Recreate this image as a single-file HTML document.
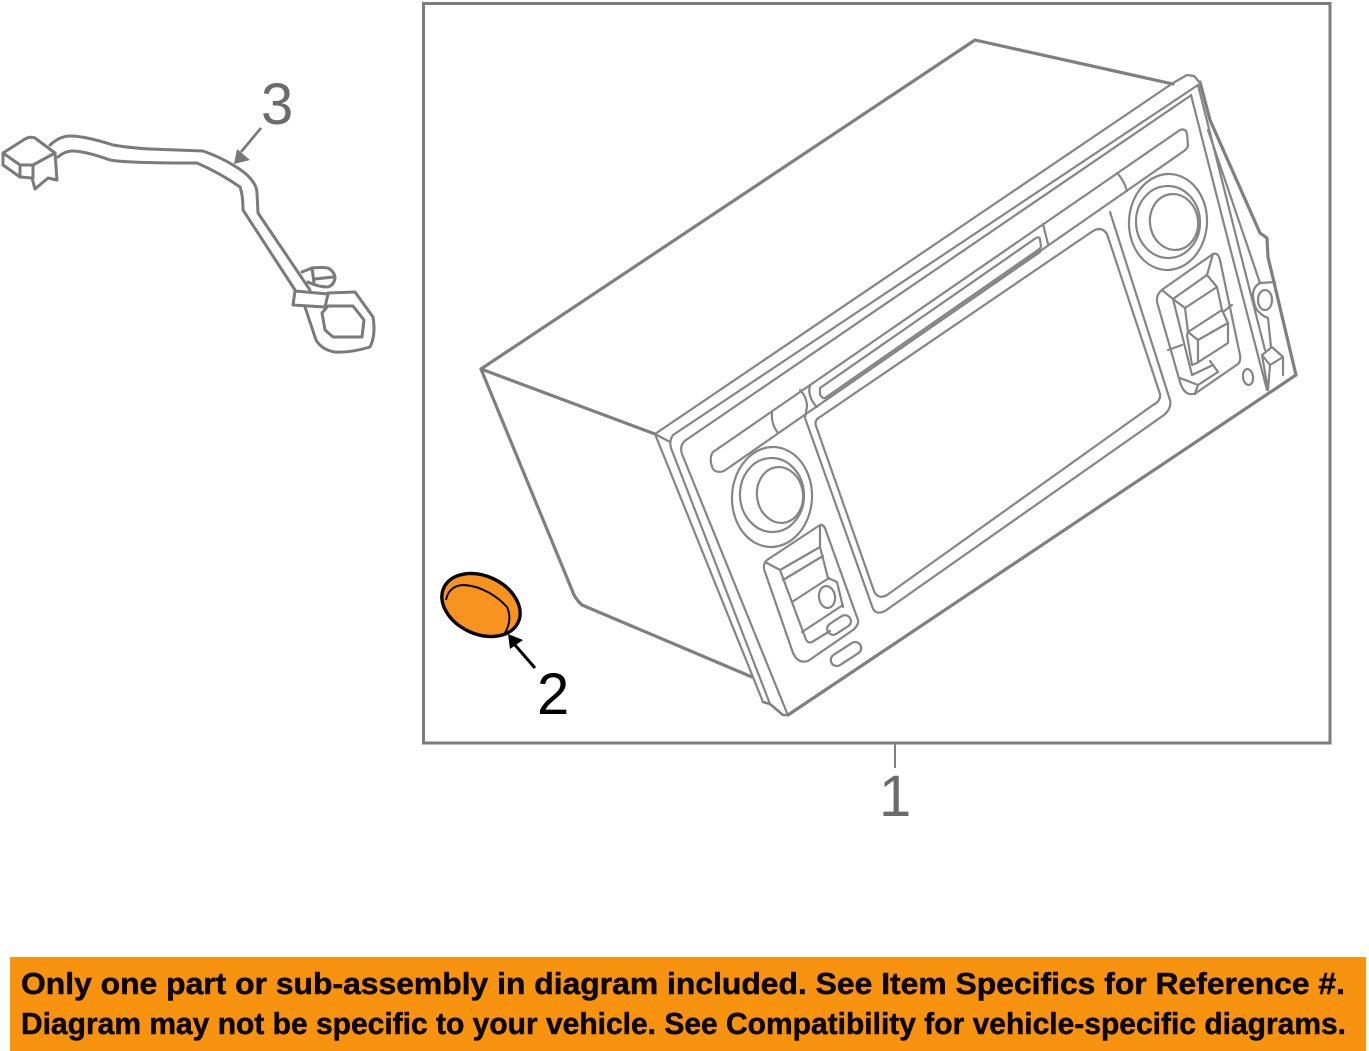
<!DOCTYPE html>
<html>
<head>
<meta charset="utf-8">
<style>
html,body{margin:0;padding:0;background:#fff;width:1369px;height:1051px;overflow:hidden}
svg{display:block}
text{font-family:"Liberation Sans",sans-serif}
</style>
</head>
<body>
<svg width="1369" height="1051" viewBox="0 0 1369 1051" xmlns="http://www.w3.org/2000/svg">
<rect width="1369" height="1051" fill="#fff"/>

<!-- frame -->
<rect x="423.5" y="3.5" width="906.5" height="739.5" fill="none" stroke="#7c7c7c" stroke-width="3"/>
<line x1="895" y1="744" x2="895" y2="768" stroke="#808080" stroke-width="2"/>

<!-- radio -->
<g fill="none" stroke="#7f7f7f" stroke-width="3.2" stroke-linejoin="round" stroke-linecap="round">
  <path d="M1173 84L975 40L481 369L572 590Q575 599 582 605L752 677"/>
  <path d="M481 369L655 434"/>
  <path d="M788 715L1296 375L1268 257L1267 238L1260 233L1210 120L1200 82"/>
  <path d="M763 702L770 704L783 715L788 715" stroke-width="2.5"/>
</g>
<g fill="none" stroke="#858585" stroke-width="2.2" stroke-linejoin="round" stroke-linecap="round">
  <!-- top rails -->
  <path d="M655 434L1173 83L1187 75L1194 76L1200 83"/>
  <path d="M673 435L1198 85"/>
  <path d="M686 440L1190 96"/>
  <path d="M655 434L670 442"/>
  <!-- left rails -->
  <path d="M655 434L763 702"/>
  <path d="M673 435Q669 441 671 448L770 704"/>
  <path d="M686 440Q679 445 682 454L787 713"/>
  <!-- right rails -->
  <path d="M1191 95L1228 240L1267 390"/>
  <path d="M1198 85L1237 240L1265 350"/>
  <path d="M1208 130L1260 283"/>
  <!-- top strip -->
  <path d="M713 452L1180 130Q1186 128 1187 134L1188 145Q1188 148 1184 151L724 471Q715 474 712 467Q709 457 713 452Z"/>
  <path d="M772 413Q771 424 778 433"/>
  <path d="M1117 173Q1124 180 1127 191"/>
  <path d="M800 390Q807 397 807 407L805 417"/>
  <path d="M810 385Q807 397 817 407"/>
  <path d="M1043 224L1048 244"/>
  <!-- slot -->
  <path d="M820 388L1036 238Q1040 236 1040 240L1041 246Q1041 248 1038 250L825 398Q822 399 820 394Z"/>
  <path d="M826 400L1040 252"/>
  <!-- screen inner -->
  <path d="M816 426Q814 420 820 417L1093 231Q1102 226 1107 234L1160 394Q1161 401 1153 405L887 595Q878 600 874 591Z"/>
  <!-- screen outer -->
  <path d="M805 418L872 606Q875 616 885 611L1164 415Q1172 408 1170 400L1110 212"/>
  <!-- left knob -->
  <ellipse cx="772" cy="497" rx="40" ry="50" transform="rotate(3 772 497)"/>
  <ellipse cx="772" cy="495" rx="32" ry="37" transform="rotate(-3 772 495)"/>
  <ellipse cx="780" cy="495" rx="23" ry="28" transform="rotate(-8 780 495)"/>
  <!-- right knob -->
  <ellipse cx="1168" cy="222" rx="39" ry="48" transform="rotate(3 1168 222)"/>
  <ellipse cx="1168" cy="222" rx="32" ry="36" transform="rotate(-3 1168 222)"/>
  <ellipse cx="1174" cy="222" rx="24" ry="28" transform="rotate(-8 1174 222)"/>
  <!-- left module -->
  <path d="M820 525L767 560Q762 565 765 572L793 653Q798 664 808 661L853 630Q859 625 858 620L826 531Q824 524 820 525Z"/>
  <path d="M765 562L780 570L820 547L820 526"/>
  <path d="M780 570L805 637Q807 644 812 642L830 631"/>
  <path d="M820 547L828 578L837 582L843 607"/>
  <path d="M783 580L823 556"/>
  <path d="M792 602L829 578"/>
  <path d="M802 632L843 605"/>
  <ellipse cx="827" cy="597" rx="8" ry="11" transform="rotate(-8 827 597)"/>
  <rect x="826" y="619" width="26" height="12" rx="6" transform="rotate(-33 839 625)"/>
  <rect x="829" y="648" width="34" height="12" rx="6" transform="rotate(-33 846 654)"/>
  <!-- right module -->
  <path d="M1213 254L1163 289Q1156 294 1157 302L1180 382Q1185 398 1196 393L1238 364Q1241 361 1240 355L1220 260Q1218 252 1213 254Z"/>
  <path d="M1162 290L1173 299L1207 275L1217 287L1185 308L1173 299"/>
  <path d="M1207 275L1213 254"/>
  <path d="M1173 299L1192 375"/>
  <path d="M1185 308L1188 332"/>
  <path d="M1217 287L1222 310L1228 323V343L1197 363L1192 365L1187 335L1188 332L1198 340L1228 323"/>
  <path d="M1222 310L1188 332"/>
  <path d="M1198 340V362"/>
  <path d="M1232 305L1223 312"/>
  <path d="M1168 350L1182 345"/>
  <path d="M1192 375L1213 365L1218 372L1198 385L1195 394"/>
  <path d="M1180 378L1198 385"/>
  <path d="M1213 365L1210 361"/>
  <ellipse cx="1248" cy="377" rx="5" ry="8" transform="rotate(-8 1248 377)"/>
  <!-- right side tabs -->
  <ellipse cx="1265" cy="300" rx="7" ry="10"/>
  <path d="M1275 282L1260 283Q1253 287 1253 295Q1254 306 1257 310Q1262 316 1268 318L1271 347"/>
  <path d="M1262 355L1272 347L1283 357L1270 365Z"/>
  <path d="M1262 355L1268 390L1270 365"/>
  <path d="M1283 357V375"/>
</g>

<!-- harness -->
<g fill="none" stroke="#7a7a7a" stroke-width="3" stroke-linejoin="round" stroke-linecap="round">
  <path d="M3 153L25 139Q30 136 35 138L55 153L57 180L48 178L35 189L32 178L20 177L3 165Z"/>
  <path d="M3 153L20 165L33 165L55 153"/>
  <path d="M20 165V177M33 165V178"/>
  <path d="M50 145Q60 136 70 136Q85 136 113 145Q130 148 150 149L203 151Q220 157 233 165Q245 172 250 178Q257 186 257 193L258 213L310 290"/>
  <path d="M58 157Q65 151 72 151Q85 151 110 160Q125 163 197 163Q220 173 240 187Q243 195 243 210L295 290"/>
  <path d="M295 291L293 305L325 307L328 294L295 291Z"/>
  <path d="M328 293L355 292L373 317Q376 335 370 347Q350 353 335 352Q322 350 316 340L305 307"/>
  <path d="M322 313L328 306L353 306L364 320L362 337H333L325 330Z"/>
  <path d="M302 272L312 268Q322 267 328 268Q335 272 335 278Q334 285 328 287Q318 287 308 282"/>
  <path d="M312 268L314 283M315 279L333 277"/>
</g>

<!-- callout 3 -->
<line x1="261" y1="128" x2="241" y2="152" stroke="#777" stroke-width="2.6"/>
<polygon points="234,164 237,149 250,160" fill="#777"/>
<text x="261" y="124" font-size="58" fill="#6b6b6b">3</text>

<!-- part 2 -->
<ellipse cx="481" cy="605" rx="41" ry="29" transform="rotate(25 481 605)" fill="#f7931e" stroke="#000" stroke-width="3.4"/>
<path d="M446 600C448 589 456 585 464 585C482 586 498 597 507 607C511 616 510 626 503 636" fill="none" stroke="#000" stroke-width="1.9"/>
<line x1="535" y1="668" x2="515" y2="645" stroke="#000" stroke-width="3"/>
<polygon points="508,634 510,649 523,640" fill="#000"/>
<text x="537" y="714" font-size="58" fill="#000">2</text>

<!-- callout 1 -->
<text x="879" y="816" font-size="58" fill="#6b6b6b">1</text>

<!-- banner -->
<rect x="10" y="957" width="1356" height="94" fill="#f8930f"/>
<text x="21" y="994" font-size="31" font-weight="700" fill="#0a0500" stroke="#0a0500" stroke-width="0.5" textLength="1324" lengthAdjust="spacingAndGlyphs">Only one part or sub-assembly in diagram included. See Item Specifics for Reference #.</text>
<text x="21" y="1034" font-size="31" font-weight="700" fill="#0a0500" stroke="#0a0500" stroke-width="0.5" textLength="1325" lengthAdjust="spacingAndGlyphs">Diagram may not be specific to your vehicle. See Compatibility for vehicle-specific diagrams.</text>
</svg>
</body>
</html>
